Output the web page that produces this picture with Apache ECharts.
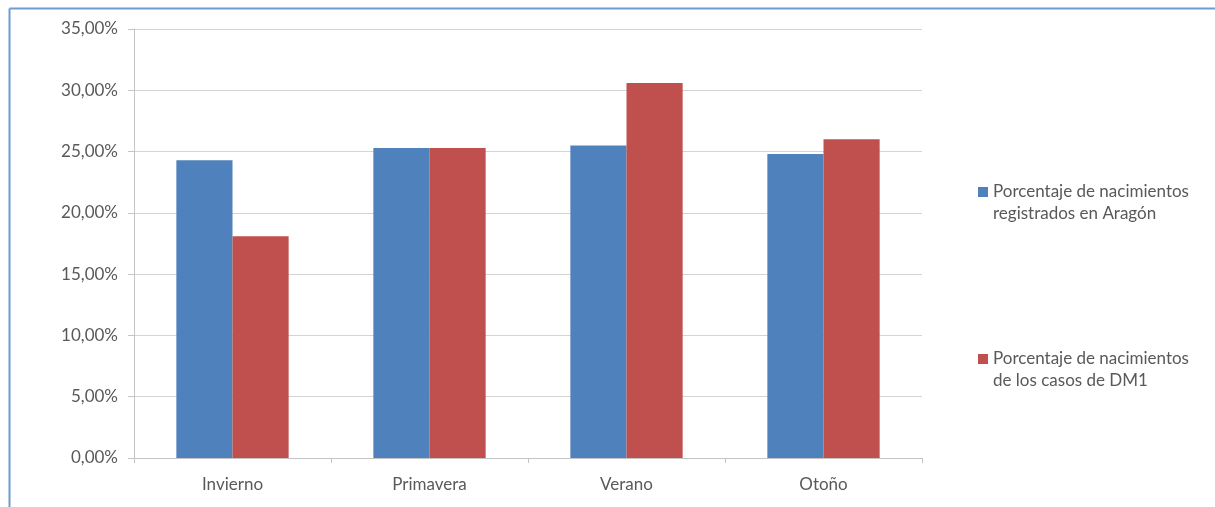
<!DOCTYPE html>
<html>
<head>
<meta charset="utf-8">
<script src="https://cdn.jsdelivr.net/npm/echarts@6/dist/echarts.min.js"></script>
<style>
  html, body { margin: 0; padding: 0; background: #fff; }
  #chart { width: 1215px; height: 507px; }
</style>
</head>
<body>
<div id="chart"></div>
<script>
// Seasons of birth
const seasons = ['Invierno', 'Primavera', 'Verano', 'Otoño'];
// Share of births per season (%)
const birthsAragon = [24.3, 25.3, 25.5, 24.8];
const birthsDM1 = [18.1, 25.3, 30.6, 26.0];
const seriesNames = [
  'Porcentaje de nacimientos\nregistrados en Aragón',
  'Porcentaje de nacimientos\nde los casos de DM1'
];
// Value axis range and step (%)
const yMin = 0, yMax = 35, yStep = 5;

const textColor = '#595959';
const font = 'Lato, "Open Sans", sans-serif';
const gridColor = '#d4d4d4';

const chart = echarts.init(document.getElementById('chart'), null, { renderer: 'canvas' });

chart.setOption({
  animation: false,
  backgroundColor: '#ffffff',
  textStyle: { fontFamily: font, color: textColor },
  graphic: [
    { type: 'line', shape: { x1: 9.5, y1: 8.5, x2: 9.5, y2: 507 }, style: { stroke: '#6f9bd3', lineWidth: 2 } },
    { type: 'line', shape: { x1: 9.5, y1: 8.5, x2: 1215, y2: 8.5 }, style: { stroke: '#6f9bd3', lineWidth: 2 } }
  ],
  grid: { left: 134, right: 293, top: 29, bottom: 49, containLabel: false },
  legend: {
    orient: 'vertical',
    left: 973,
    top: 154,
    itemWidth: 10,
    itemHeight: 10,
    itemGap: 101,
    icon: 'rect',
    selectedMode: false,
    // a blank leading line keeps the swatch level with the first text line
    formatter: name => ' \n' + name,
    textStyle: { fontFamily: font, fontSize: 17, color: textColor, lineHeight: 22 },
    data: seriesNames
  },
  xAxis: {
    type: 'category',
    data: seasons,
    boundaryGap: true,
    axisLine: { lineStyle: { color: '#c4c4c4', width: 1 } },
    axisTick: { show: true, alignWithLabel: false, length: 5, lineStyle: { color: '#c4c4c4' } },
    axisLabel: { color: textColor, fontSize: 17, fontFamily: font, margin: 18 }
  },
  yAxis: {
    type: 'value',
    min: yMin,
    max: yMax,
    interval: yStep,
    axisLine: { show: true, lineStyle: { color: '#c4c4c4', width: 1 } },
    axisTick: { show: true, length: 6, inside: false, lineStyle: { color: '#c4c4c4' } },
    splitLine: { show: true, lineStyle: { color: gridColor, width: 1 } },
    axisLabel: {
      color: textColor, fontSize: 17, fontFamily: font, margin: 16,
      formatter: v => v.toFixed(2).replace('.', ',') + '%'
    }
  },
  series: [
    {
      name: seriesNames[0], type: 'bar', data: birthsAragon,
      itemStyle: { color: '#4f81bd' }, barGap: '0%', barCategoryGap: '43%'
    },
    {
      name: seriesNames[1], type: 'bar', data: birthsDM1,
      itemStyle: { color: '#c0504d' }, barGap: '0%', barCategoryGap: '43%'
    }
  ]
});
</script>
</body>
</html>
